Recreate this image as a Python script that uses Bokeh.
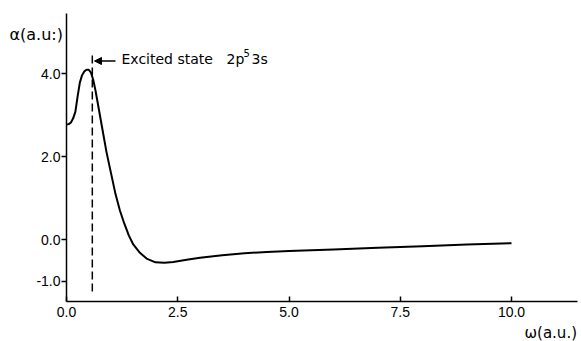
from bokeh.plotting import figure
from bokeh.models import Range1d, FixedTicker, PrintfTickFormatter, Label, Arrow, NormalHead
from bokeh.embed import file_html
from bokeh.resources import INLINE

# data
omega = [0.0, 0.05, 0.10, 0.15, 0.20, 0.25, 0.30, 0.35, 0.40, 0.45, 0.50, 0.55,
         0.60, 0.65, 0.70, 0.80, 0.90, 1.00, 1.10, 1.20, 1.30, 1.40, 1.50, 1.65,
         1.80, 2.00, 2.20, 2.40, 2.70, 3.00, 3.50, 4.00, 4.50, 5.00, 6.00, 7.00,
         8.00, 9.00, 10.0]
alpha = [2.77, 2.78, 2.82, 2.92, 3.08, 3.45, 3.78, 3.96, 4.05, 4.09, 4.09, 4.02,
         3.85, 3.60, 3.30, 2.70, 2.10, 1.60, 1.10, 0.70, 0.38, 0.10, -0.12, -0.32,
         -0.46, -0.55, -0.56, -0.54, -0.49, -0.44, -0.38, -0.33, -0.30, -0.28,
         -0.24, -0.20, -0.16, -0.12, -0.09]
excited_omega = 0.58
dash_range = [-1.25, 4.48]
x_ticks = [0, 2.5, 5, 7.5, 10]
y_ticks = [-1, 0, 2, 4]

W, H = 581, 341
OX, OY = 66, 239      # pixel of omega=0, alpha=0
XPX, YPX = 44.5, 41.5  # pixels per unit

def dx(px):
    return (px - OX) / XPX

def dy(py):
    return (OY - py) / YPX

p = figure(width=W, height=H, output_backend="svg", toolbar_location=None,
           x_range=Range1d(dx(0), dx(W)), y_range=Range1d(dy(H), dy(0)),
           min_border=0)
p.outline_line_color = None
p.xgrid.visible = False
p.ygrid.visible = False
p.background_fill_color = "white"
p.border_fill_color = "white"

xa, ya = p.xaxis[0], p.yaxis[0]
for ax in (xa, ya):
    ax.axis_line_color = "black"
    ax.axis_line_width = 1.5
    ax.major_tick_line_color = "black"
    ax.major_tick_line_width = 1.5
    ax.minor_tick_line_color = None
    ax.major_label_text_font = "Liberation Sans"
    ax.major_label_text_font_size = "14px"
    ax.major_label_text_color = "black"
    ax.formatter = PrintfTickFormatter(format="%.1f")

xa.ticker = FixedTicker(ticks=x_ticks, minor_ticks=[])
ya.ticker = FixedTicker(ticks=y_ticks, minor_ticks=[])
xa.fixed_location = dy(301)
ya.fixed_location = 0
xa.bounds = (0, dx(577))
ya.bounds = (dy(301), dy(13))
xa.major_tick_in = 5
xa.major_tick_out = 0
xa.major_label_standoff = 5
ya.major_tick_in = 0
ya.major_tick_out = 5
ya.major_label_standoff = 1

p.line(omega, alpha, line_color="black", line_width=2)
p.line([excited_omega, excited_omega], dash_range, line_color="black", line_width=1.5,
       line_dash="8 4")

p.add_layout(Arrow(end=NormalHead(size=7, fill_color="black", line_color="black"),
                   x_start=dx(115), y_start=dy(60.5), x_end=dx(94), y_end=dy(60.5),
                   line_color="black", line_width=1.5))

def lab(text, px, py, size, font="DejaVu Sans"):
    p.add_layout(Label(x=dx(px), y=dy(py), text=text, text_font=font,
                       text_font_size=size, text_baseline="middle", text_align="left",
                       text_color="black"))

lab("Excited state", 121, 58, "14px")
lab("2p", 226, 58, "14px")
lab("5", 243, 52, "10px")
lab("3s", 251, 58, "14px")
lab("\u03b1(a.u:)", 9, 34, "16px")
lab("\u03c9(a.u.)", 524, 332, "15px")

open("out.html", "w").write(file_html(p, INLINE))
